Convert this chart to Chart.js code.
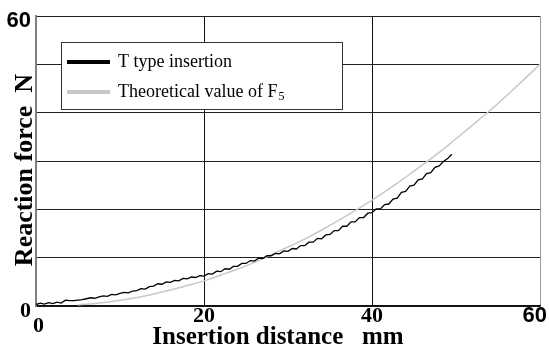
<!DOCTYPE html>
<html>
<head>
<meta charset="utf-8">
<script src="https://cdn.jsdelivr.net/npm/chart.js@4.4.0/dist/chart.umd.min.js"></script>
<style>
  html, body { margin: 0; padding: 0; background: #fff; }
  #wrap { width: 549px; height: 350px; }
</style>
</head>
<body>
<div id="wrap"><canvas id="forceChart" width="549" height="350"></canvas></div>
<script>
// measured curve (T type insertion)
var measuredDist = [0, 0.5, 1, 1.5, 2, 2.5, 3, 3.5, 4, 4.5, 5, 5.5, 6, 6.5, 7, 7.5, 8, 8.5, 9, 9.5,
  10, 10.5, 11, 11.5, 12, 12.5, 13, 13.5, 14, 14.5, 15, 15.5, 16, 16.5, 17, 17.5, 18, 18.5, 19, 19.5,
  20, 20.5, 21, 21.5, 22, 22.5, 23, 23.5, 24, 24.5, 25, 25.5, 26, 26.5, 27, 27.5, 28, 28.5, 29, 29.5,
  30, 30.5, 31, 31.5, 32, 32.5, 33, 33.5, 34, 34.5, 35, 35.5, 36, 36.5, 37, 37.5, 38, 38.5, 39, 39.5,
  40, 40.5, 41, 41.5, 42, 42.5, 43, 43.5, 44, 44.5, 45, 45.5, 46, 46.5, 47, 47.5, 48, 48.5, 49, 49.5];
var measuredForce = [0.3, 0.6, 0.4, 0.7, 0.5, 0.8, 0.6, 1.2, 1.1, 1.1, 1.2, 1.3, 1.5, 1.7, 1.6, 1.9, 2.1, 2.0, 2.4, 2.3,
  2.6, 2.8, 2.7, 3.1, 3.2, 3.6, 3.5, 4.0, 4.1, 4.6, 4.5, 5.0, 4.9, 5.3, 5.2, 5.7, 5.6, 6.0, 5.9, 6.3,
  6.2, 6.7, 6.6, 7.2, 7.1, 7.7, 7.6, 8.2, 8.2, 8.8, 8.8, 9.4, 9.3, 9.9, 9.8, 10.4, 10.4, 10.9, 10.8, 11.4,
  11.3, 11.9, 11.8, 12.5, 12.5, 13.2, 13.2, 14.0, 13.9, 14.7, 14.8, 15.6, 15.6, 16.5, 16.5, 17.4, 17.4, 18.3, 18.3, 19.2,
  19.3, 20.1, 20.1, 21.0, 21.1, 22.1, 22.3, 23.5, 23.7, 24.8, 25.0, 26.1, 26.3, 27.4, 27.6, 28.7, 29.0, 29.9, 30.5, 31.4];

// theoretical value of F5
var theoryDist = [5, 7.5, 10, 12.5, 15, 17.5, 20, 22.5, 25, 27.5, 30, 32.5, 35, 37.5, 40, 42.5, 45, 47.5, 50, 52.5, 55, 57.5, 60];
var theoryForce = [0.2, 0.6, 1.2, 1.9, 2.9, 4.0, 5.2, 6.7, 8.3, 10.2, 12.2, 14.3, 16.7, 19.2, 21.9, 24.8, 27.9, 31.1, 34.6, 38.2, 41.9, 45.9, 50];

var xTickLabels = [0, 20, 40, 60];
var yTickLabels = [0, 60];

function toPoints(xs, ys) {
  return xs.map(function (x, i) { return { x: x, y: ys[i] }; });
}

// draws tick labels, axis titles and the boxed legend
var decorations = {
  id: 'decorations',
  afterDraw: function (chart) {
    var c = chart.ctx;
    var area = chart.chartArea;
    var xs = chart.scales.x, ys = chart.scales.y;
    c.save();
    c.fillStyle = '#000';

    // y tick labels
    c.textAlign = 'right';
    c.textBaseline = 'middle';
    yTickLabels.forEach(function (v) {
      c.font = (v === 60 ? 'bold 22px "Liberation Sans"' : 'bold 22px "Liberation Serif"');
      c.fillText(String(v), 31, ys.getPixelForValue(v) + 5);
    });

    // x tick labels
    xTickLabels.forEach(function (v, i) {
      var px = xs.getPixelForValue(v);
      var py = 316;
      c.font = (v === 60 ? 'bold 22px "Liberation Sans"' : 'bold 22px "Liberation Serif"');
      if (i === 0) { c.textAlign = 'left'; px -= 3; py += 10; }
      else if (i === xTickLabels.length - 1) { c.textAlign = 'right'; px += 7; }
      else { c.textAlign = 'center'; }
      c.fillText(String(v), px, py);
    });

    // axis titles
    c.font = 'bold 25px "Liberation Serif"';
    c.textAlign = 'center';
    c.fillText('Insertion distance   mm', (area.left + area.right) / 2 - 10, 338);
    c.save();
    c.translate(25, (area.top + area.bottom) / 2 + 9);
    c.rotate(-Math.PI / 2);
    c.font = 'bold 26px "Liberation Serif"';
    c.fillText('Reaction force  N', 0, 0);
    c.restore();

    // legend
    c.fillStyle = '#fff';
    c.fillRect(61, 42, 281, 67);
    c.strokeStyle = '#333';
    c.lineWidth = 1;
    c.strokeRect(61.5, 42.5, 281, 67);
    var rows = [62, 92];
    chart.data.datasets.forEach(function (ds, i) {
      c.strokeStyle = ds.borderColor;
      c.lineWidth = 4;
      c.beginPath();
      c.moveTo(67, rows[i]);
      c.lineTo(110, rows[i]);
      c.stroke();
      c.fillStyle = '#000';
      c.font = '18px "Liberation Serif"';
      c.textAlign = 'left';
      c.textBaseline = 'middle';
      c.fillText(ds.label, 118, rows[i]);
      if (ds.sub) {
        var w = c.measureText(ds.label).width;
        c.font = '12px "Liberation Serif"';
        c.fillText(ds.sub, 118 + w + 1, rows[i] + 5);
      }
    });
    c.restore();
  }
};

var ctx = document.getElementById('forceChart').getContext('2d');
var chart = new Chart(ctx, {
  type: 'line',
  data: {
    datasets: [{
      label: 'T type insertion',
      data: toPoints(measuredDist, measuredForce),
      borderColor: '#000',
      borderWidth: 1.3,
      pointRadius: 0,
      tension: 0
    }, {
      label: 'Theoretical value of F',
      sub: '5',
      data: toPoints(theoryDist, theoryForce),
      borderColor: '#c8c8c8',
      borderWidth: 1.5,
      pointRadius: 0,
      tension: 0.4
    }]
  },
  options: {
    responsive: false,
    animation: false,
    layout: { padding: { left: 36, top: 16, right: 9, bottom: 44 } },
    plugins: { legend: { display: false }, tooltip: { enabled: false } },
    scales: {
      x: {
        type: 'linear',
        min: 0, max: 60,
        ticks: { display: false, stepSize: 20 },
        grid: {
          drawTicks: false,
          color: function (c) { return c.tick.value === 60 ? '#999' : '#111'; },
          lineWidth: 1
        },
        border: { color: '#111', width: 1.5 },
        afterFit: function (s) { s.height = 0; }
      },
      y: {
        min: 0, max: 60,
        ticks: { display: false, stepSize: 10 },
        grid: { drawTicks: false, color: '#222', lineWidth: 1 },
        border: { color: '#808080', width: 2 },
        afterFit: function (s) { s.width = 0; }
      }
    }
  },
  plugins: [decorations]
});
</script>
</body>
</html>
